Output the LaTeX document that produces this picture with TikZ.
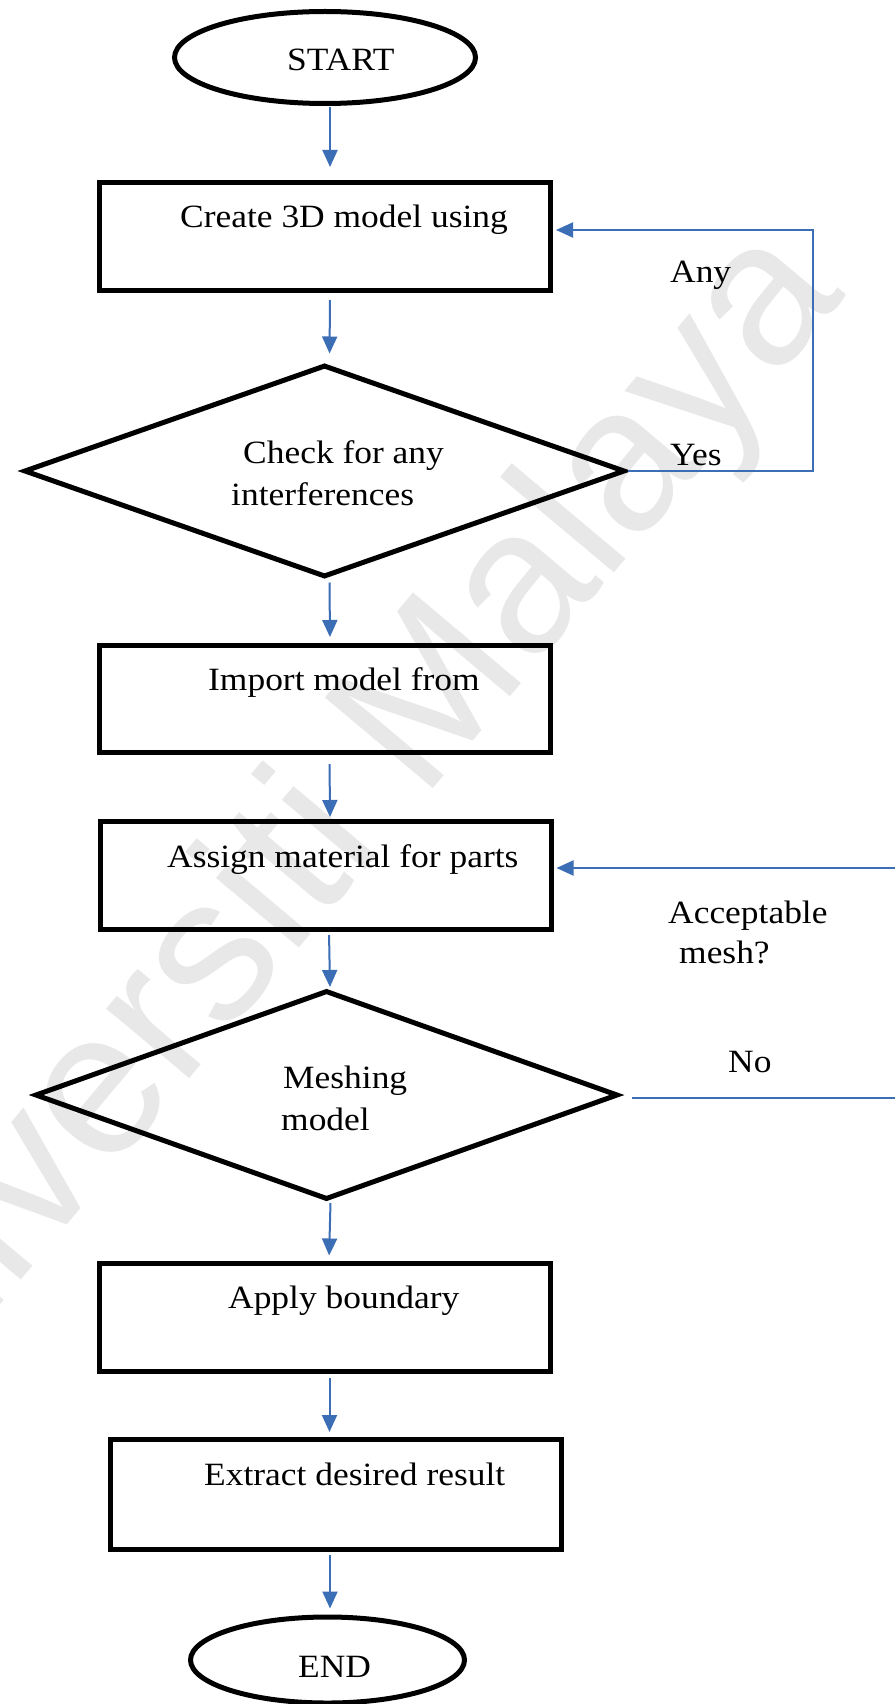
\documentclass[tikz,border=0pt]{standalone}
\usepackage{fontspec}
\setmainfont{Liberation Serif}[FakeStretch=1.09]
\newfontfamily\wmfont{Liberation Sans}
\usetikzlibrary{shapes.geometric,arrows.meta,calc}
\definecolor{flowblue}{RGB}{59,110,180}
\begin{document}
\begin{tikzpicture}[x=1pt,y=-1pt,
  box/.style={draw,line width=5pt,rectangle,minimum width=451pt,minimum height=108pt,inner sep=0pt},
  term/.style={draw,line width=5pt,ellipse,inner sep=0pt},
  dec/.style={draw,line width=5pt,diamond,inner sep=0pt},
  txt/.style={anchor=base west,inner sep=0pt,font=\fontsize{32.5}{39}\selectfont},
  arr/.style={draw=flowblue,line width=2pt,-{Triangle[length=17pt,width=15pt]}},
  conn/.style={draw=flowblue,line width=2pt},
  wm/.style={text=black!9,font=\wmfont\fontsize{205}{210}\selectfont,rotate=50,inner sep=0pt}
]
\useasboundingbox (0,0) rectangle (895,1704);
\fill[white] (0,0) rectangle (895,1704);
% watermark
\node[wm] (wmark) at (305,859) {Universiti Malaya};
% terminals and boxes
\node[term,minimum width=301pt,minimum height=92pt] (start) at (325,57.5) {};
\node[txt] (tstart) at (287,71) {START};
\node[box] (b1) at (325,236.5) {};
\node[txt] (tb1) at (180,228) {Create 3D model using};
\node[dec,minimum width=601pt,minimum height=212pt] (d1) at (324.5,471) {};
\node[txt] (td1a) at (243,463) {Check for any};
\node[txt] (td1b) at (231,505) {interferences};
\node[box,minimum height=107pt] (b2) at (325,699) {};
\node[txt] (tb2) at (208,690) {Import model from};
\node[box] (b3) at (325.5,875.5) {};
\node[txt] (tb3) at (167,867) {Assign material for parts};
\node[dec,minimum width=583pt,minimum height=209pt] (d2) at (326.5,1095) {};
\node[txt] (td2a) at (283,1088) {Meshing};
\node[txt] (td2b) at (281,1130) {model};
\node[box] (b4) at (325,1317) {};
\node[txt] (tb4) at (228,1308) {Apply boundary};
\node[box,minimum height=110pt] (b5) at (336,1494.5) {};
\node[txt] (tb5) at (204,1485) {Extract desired result};
\node[term,minimum width=274pt,minimum height=86pt] (end) at (327.5,1660) {};
\node[txt] (tend) at (298,1677) {END};
% branch labels
\node[txt] (lany) at (670,283) {Any};
\node[txt] (lyes) at (670,465) {Yes};
\node[txt] (lacc) at (668,923) {Acceptable};
\node[txt] (lmesh) at (679,963) {mesh?};
\node[txt] (lno) at (728,1072) {No};
% main flow arrows
\draw[arr,shorten <=1pt,shorten >=13pt] ([xshift=5pt]start.south) -- ([xshift=5pt]b1.north);
\draw[arr,shorten <=7pt,shorten >=9pt] ([xshift=5pt]b1.south) -- ([xshift=5pt]d1.north);
\draw[arr,shorten <=3pt,shorten >=6pt] ([xshift=5pt]d1.south) -- ([xshift=5pt]b2.north);
\draw[arr,shorten <=9pt,shorten >=2pt] ([xshift=4.5pt]b2.south) -- ([xshift=4.5pt]b3.north);
\draw[arr,shorten <=3pt,shorten >=1pt] ([xshift=3.5pt]b3.south) -- ([xshift=3.5pt]d2.north);
\draw[arr,shorten <=1pt,shorten >=5pt] ([xshift=4pt]d2.south) -- ([xshift=4pt]b4.north);
\draw[arr,shorten <=4pt,shorten >=5pt] ([xshift=4.5pt]b4.south) -- ([xshift=4.5pt]b4.south |- b5.north);
\draw[arr,shorten <=3pt,shorten >=6pt] ([xshift=2.5pt]end.north |- b5.south) -- ([xshift=2.5pt]end.north);
% feedback loops
\coordinate (c1) at (813,230);
\draw[arr,shorten >=3pt] (d1.east) -| (c1) -- (c1 -| b1.east);
\coordinate (c2) at (895,1098);
\coordinate (c3) at (895,868);
\draw[conn,shorten <=11pt] (c2 -| d2.east) -- (c2);
\draw[arr,shorten >=3pt] (c3) -- (c3 -| b3.east);
\end{tikzpicture}
\end{document}
